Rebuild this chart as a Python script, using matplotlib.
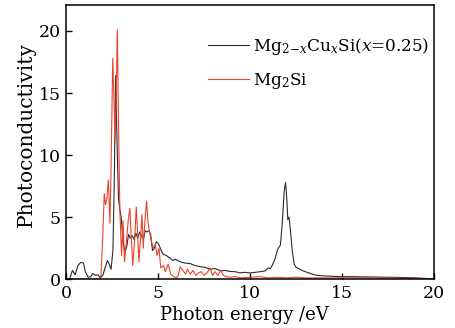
import numpy as np
import matplotlib.pyplot as plt

plt.rcParams['font.family'] = ['DejaVu Serif']
plt.rcParams['mathtext.fontset'] = 'dejavuserif'

# Mg(2-x)Cu(x)Si, x = 0.25
energy_cu = [0.0, 0.2, 0.35, 0.5, 0.65, 0.8, 0.95, 1.05, 1.2, 1.35, 1.45, 1.6, 1.75, 1.85,
             2.0, 2.1, 2.25, 2.35, 2.45, 2.55, 2.62, 2.7, 2.76, 2.85, 2.95, 3.0, 3.1, 3.2,
             3.3, 3.4, 3.5, 3.6, 3.7, 3.8, 3.9, 4.0, 4.1, 4.2, 4.3, 4.4, 4.5, 4.6, 4.7,
             4.8, 4.9, 5.0, 5.1, 5.2, 5.3, 5.45, 5.65, 5.8, 5.95, 6.2, 6.45, 6.75, 7.0,
             7.3, 7.55, 7.85, 8.1, 8.4, 8.65, 8.9, 9.2, 9.45, 9.7, 10.0, 10.3, 10.55,
             10.8, 11.0, 11.1, 11.2, 11.35, 11.5, 11.65, 11.75, 11.85, 11.93, 12.0,
             12.05, 12.12, 12.2, 12.3, 12.4, 12.5, 12.7, 12.9, 13.1, 13.3, 13.5, 13.8,
             14.2, 14.6, 15.0, 15.5, 16.0, 16.5, 17.0, 17.5, 18.0, 18.5, 19.0, 19.5, 20.0]
photo_cu = [0.0, 0.05, 0.7, 0.35, 1.1, 1.35, 1.3, 0.6, 0.15, 0.2, 0.45, 0.3, 0.35, 0.1,
            0.3, 0.8, 1.5, 1.2, 0.8, 2.3, 7.5, 16.4, 12.0, 6.5, 5.4, 5.0, 3.0, 2.2,
            2.6, 3.6, 3.3, 3.5, 3.2, 3.7, 3.3, 3.8, 3.5, 3.2, 3.9, 3.8, 3.9, 3.6, 2.3,
            2.5, 3.0, 2.9, 2.6, 2.2, 2.0, 1.9, 1.7, 1.5, 1.6, 1.4, 1.3, 1.25, 1.1,
            1.0, 0.95, 0.8, 0.85, 0.67, 0.7, 0.62, 0.6, 0.5, 0.55, 0.5, 0.55, 0.6,
            0.65, 0.9, 0.85, 1.1, 1.6, 2.4, 2.75, 4.5, 7.0, 7.8, 6.4,
            4.8, 5.0, 3.8, 2.2, 1.2, 0.95, 0.8, 0.65, 0.55, 0.45, 0.35, 0.28,
            0.25, 0.22, 0.2, 0.2, 0.18, 0.18, 0.16, 0.15, 0.14, 0.12, 0.1, 0.06, 0.02]

# Mg2Si
energy_mg = [0.0, 1.8, 1.9, 2.0, 2.08, 2.15, 2.22, 2.3, 2.39, 2.45, 2.54, 2.6, 2.66, 2.72,
             2.79, 2.86, 2.93, 3.02, 3.1, 3.18, 3.28, 3.38, 3.47, 3.56, 3.63, 3.72, 3.82,
             3.9, 3.96, 4.05, 4.13, 4.2, 4.28, 4.38, 4.46, 4.55, 4.65, 4.75, 4.85, 4.95,
             5.05, 5.15, 5.3, 5.4, 5.55, 5.7, 5.85, 6.0, 6.1, 6.2, 6.35, 6.5, 6.6, 6.75,
             6.9, 7.05, 7.2, 7.35, 7.5, 7.65, 7.85, 7.95, 8.1, 8.25, 8.4, 8.55, 8.7, 8.9,
             9.2, 9.5, 10.0, 10.5, 11.0, 11.5, 12.0, 12.5, 13.0, 14.0, 15.0, 16.0, 17.0,
             18.0, 19.0, 20.0]
photo_mg = [0.0, 0.0, 0.3, 3.5, 6.9, 6.0, 6.5, 8.0, 4.5, 9.0, 17.8, 15.0, 11.0, 14.0,
            20.1, 12.0, 5.4, 1.9, 4.7, 1.4, 3.0, 4.7, 5.7, 3.0, 1.1, 3.0, 5.8,
            3.5, 1.4, 3.2, 5.2, 2.5, 4.5, 6.3, 4.5, 3.7, 3.0, 2.5, 2.8, 1.9,
            2.5, 0.9, 1.1, 0.6, 1.2, 0.4, 0.2, 0.1, 0.3, 1.0, 0.7, 0.4, 0.8, 0.4,
            0.7, 0.3, 0.5, 0.6, 0.3, 0.5, 0.9, 0.3, 0.6, 0.3, 0.7, 0.3, 0.2, 0.15,
            0.2, 0.1, 0.15, 0.2, 0.1, 0.15, 0.1, 0.15, 0.1, 0.1, 0.1, 0.12, 0.08,
            0.08, 0.05, 0.02]

xticks = [0, 5, 10, 15, 20]
yticks = [0, 5, 10, 15, 20]

fig = plt.figure(figsize=(4.56, 3.28), dpi=100)
ax = fig.add_axes([0.1447, 0.149, 0.8073, 0.836])

ax.plot(energy_cu, photo_cu, color='#2b2b2b', lw=0.8,
        label=r'Mg$_{2\!-\!x}$Cu$_x$Si($x$=0.25)')
ax.plot(energy_mg, photo_mg, color='#e8432c', lw=0.8, label=r'Mg$_2$Si')

ax.set_xlim(0, 20)
ax.set_ylim(0, 22.1)
ax.set_xticks(xticks)
ax.set_yticks(yticks)
ax.tick_params(direction='in', length=4, width=1, labelsize=12.5, top=False, right=False)
ax.tick_params(axis='x', pad=4)
for s in ax.spines.values():
    s.set_linewidth(1.1)

ax.set_xlabel('Photon energy /eV', fontsize=13)
ax.set_ylabel('Photoconductivity', fontsize=14.5)
ax.xaxis.set_label_coords(0.484, -0.098)
ax.yaxis.set_label_coords(-0.082, 0.526)

ax.legend(loc='upper right', bbox_to_anchor=(1.005, 0.91), frameon=False, fontsize=12.2,
          handlelength=2.4, handletextpad=0.25, labelspacing=0.8, borderaxespad=0.0)

fig.savefig('out.png', dpi=100)
